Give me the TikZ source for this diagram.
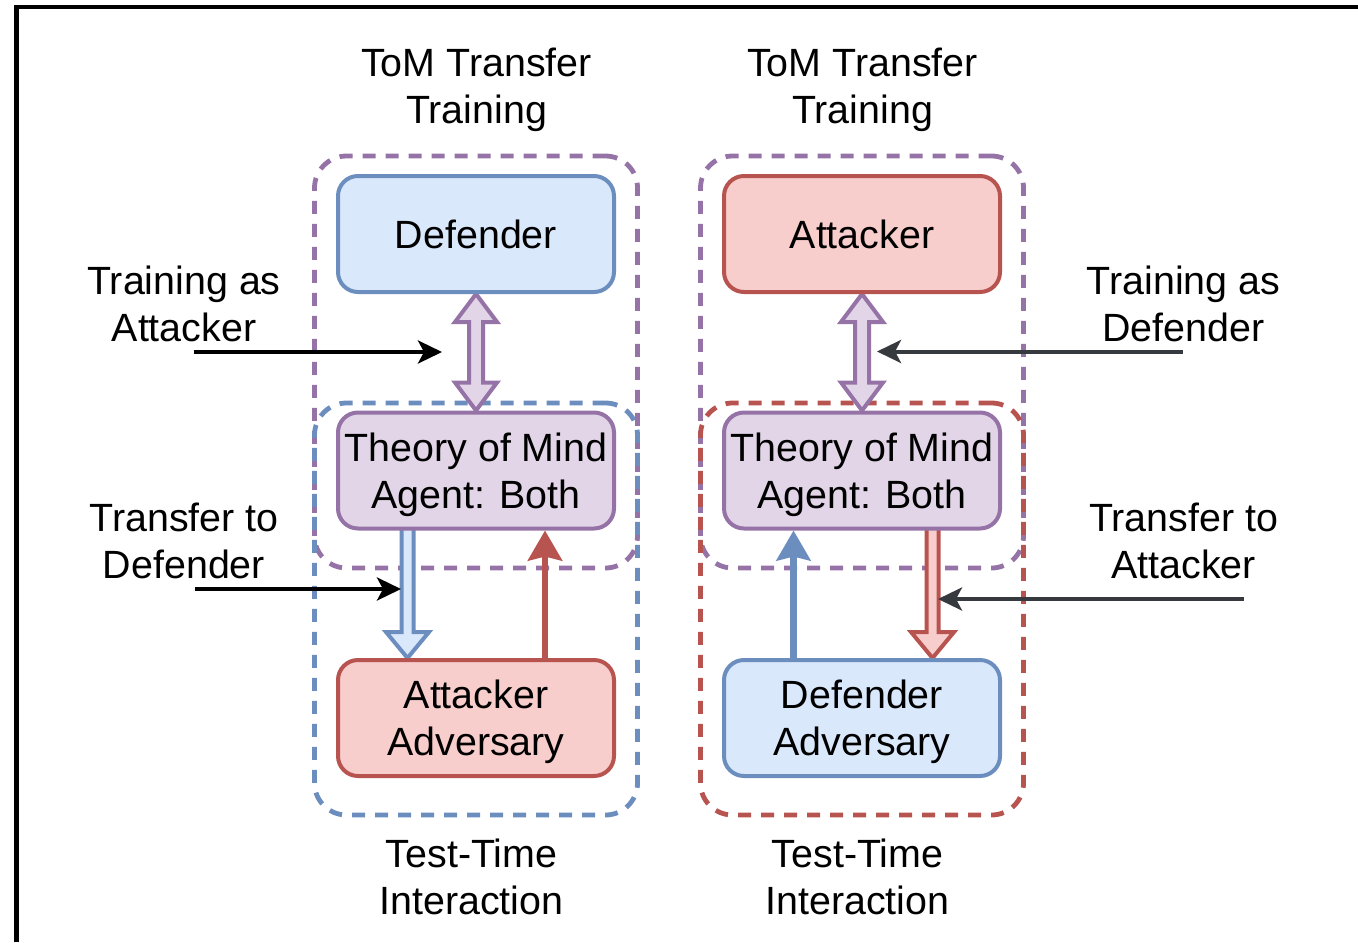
\documentclass[tikz,border=0pt]{standalone}
\usepackage{fontspec}
\setmainfont{Liberation Sans}
\usetikzlibrary{arrows.meta,calc}

\definecolor{defline}{HTML}{6C8EBF}
\definecolor{deffill}{HTML}{DAE8FC}
\definecolor{attline}{HTML}{B85450}
\definecolor{attfill}{HTML}{F8CECC}
\definecolor{tomline}{HTML}{9673A6}
\definecolor{tomfill}{HTML}{E1D5E7}
\definecolor{darkgray}{RGB}{54,57,61}

% uniform line strut so every text line is centred on its capitals
\newcommand\lnstrut{\rule[-4.6pt]{0pt}{23.2pt}}

\begin{document}
\begin{tikzpicture}[x=0.5pt,y=-0.5pt,
  txt/.style={font=\fontsize{19.7}{23.5}\selectfont, align=center, inner sep=0pt},
  agent/.style={txt, draw, rounded corners=10pt, line width=2pt,
    minimum width=138pt, minimum height=58pt},
  grp/.style={draw, line width=2.4pt, dash pattern=on 6.5pt off 5pt,
    rounded corners=16pt, minimum width=161.5pt, minimum height=206pt,
    inner sep=0pt},
  flex/.style={line width=2pt, line join=miter},
  pointer/.style={line width=2pt, -{Stealth[length=12pt,width=11.5pt,inset=3pt]}},
  flow/.style={line width=3.2pt, -{Stealth[length=15pt,width=17pt,inset=2pt]}}
]
\useasboundingbox (0,0) rectangle (1358,942);

% outer frame (top and left edges)
\draw[line width=2.25pt, line join=miter] (16.25,942) -- (16.25,7) -- (1358,7);

% dashed groupings
\node[grp, draw=tomline] (grpTrainL) at (476,362) {};
\node[grp, draw=defline] (grpTestL) at (476,609) {};
\node[grp, draw=tomline] (grpTrainR) at (862,362) {};
\node[grp, draw=attline] (grpTestR) at (862,609) {};

% group titles
\node[txt] (titleL) at (476.5,86) {\lnstrut ToM Transfer\\\lnstrut Training};
\node[txt] (titleR) at (862.5,86) {\lnstrut ToM Transfer\\\lnstrut Training};
\node[txt] (testL) at (471.5,876.5) {\lnstrut Test-Time\\\lnstrut Interaction};
\node[txt] (testR) at (857.5,876.5) {\lnstrut Test-Time\\\lnstrut Interaction};

% side labels
\node[txt] (labTA) at (184,303.6) {\lnstrut Training as\\\lnstrut Attacker};
\node[txt] (labXD) at (184,540.5) {\lnstrut Transfer to\\\lnstrut Defender};
\node[txt] (labTD) at (1183.5,303.6) {\lnstrut Training as\\\lnstrut Defender};
\node[txt] (labXA) at (1183.5,541) {\lnstrut Transfer to\\\lnstrut Attacker};

% agent positions
\path (476,234) coordinate (pDefL) (476,470.5) coordinate (pTomL) (476,718) coordinate (pAttL)
      (862,234) coordinate (pAttR) (862,470.5) coordinate (pTomR) (862,718) coordinate (pDefR);

% invisible copies to get anchors for the block arrows
\node[agent, draw=none] (defL) at (pDefL) {};
\node[agent, draw=none] (tomL) at (pTomL) {};
\node[agent, draw=none] (attL) at (pAttL) {};
\node[agent, draw=none] (attR) at (pAttR) {};
\node[agent, draw=none] (tomR) at (pTomR) {};
\node[agent, draw=none] (defR) at (pDefR) {};

% double block arrows between trainee and ToM agent
\foreach \up/\dn in {defL/tomL, attR/tomR}{
  \coordinate (t) at (\up.south);
  \coordinate (b) at (\dn.north);
  \filldraw[flex, draw=tomline, fill=tomfill]
    (t) -- ($(t)+(21,28)$) -- ($(t)+(7,28)$) -- ($(b)+(7,-28)$) -- ($(b)+(21,-28)$)
    -- (b) -- ($(b)+(-21,-28)$) -- ($(b)+(-7,-28)$) -- ($(t)+(-7,28)$)
    -- ($(t)+(-21,28)$) -- cycle;
}

% transfer block arrows from ToM agent to adversary
\coordinate (sL) at ($(tomL.south)+(-68.5,-4)$);
\coordinate (pL) at ($(attL.north)+(-68.5,0)$);
\filldraw[flex, draw=defline, fill=deffill]
  ($(sL)+(-6,0)$) -- ($(pL)+(-6,-26)$) -- ($(pL)+(-21.5,-26)$) -- (pL)
  -- ($(pL)+(21.5,-26)$) -- ($(pL)+(6,-26)$) -- ($(sL)+(6,0)$) -- cycle;
\coordinate (sR) at ($(tomR.south)+(70.5,-4)$);
\coordinate (pR) at ($(defR.north)+(70.5,0)$);
\filldraw[flex, draw=attline, fill=attfill]
  ($(sR)+(-6,0)$) -- ($(pR)+(-6,-26)$) -- ($(pR)+(-21.5,-26)$) -- (pR)
  -- ($(pR)+(21.5,-26)$) -- ($(pR)+(6,-26)$) -- ($(sR)+(6,0)$) -- cycle;

% agent boxes
\node[agent, draw=defline, fill=deffill] (defLbox) at (pDefL) {\lnstrut Defender};
\node[agent, draw=tomline, fill=tomfill] (tomLbox) at (pTomL) {\lnstrut Theory of Mind\\\lnstrut Agent: Both};
\node[agent, draw=attline, fill=attfill] (attLbox) at (pAttL) {\lnstrut Attacker\\\lnstrut Adversary};
\node[agent, draw=attline, fill=attfill] (attRbox) at (pAttR) {\lnstrut Attacker};
\node[agent, draw=tomline, fill=tomfill] (tomRbox) at (pTomR) {\lnstrut Theory of Mind\\\lnstrut Agent: Both};
\node[agent, draw=defline, fill=deffill] (defRbox) at (pDefR) {\lnstrut Defender\\\lnstrut Adversary};

% adversary feedback arrows
\draw[flow, attline] ($(attLbox.north)+(69,0)$) -- ($(tomLbox.south)+(69,0)$);
\draw[flow, defline] ($(defRbox.north)+(-68.5,0)$) -- ($(tomRbox.south)+(-68.5,0)$);

% label pointers
\coordinate (qTA) at (194,352);   \coordinate (hTA) at (442,352);
\coordinate (qXD) at (195,589);   \coordinate (hXD) at (401,589);
\coordinate (qTD) at (1183,351.5); \coordinate (hTD) at (877,351.5);
\coordinate (qXA) at (1244,599);  \coordinate (hXA) at (938,599);
\draw[pointer, black] (qTA) -- (hTA);
\draw[pointer, black] (qXD) -- (hXD);
\draw[pointer, darkgray] (qTD) -- (hTD);
\draw[pointer, darkgray] (qXA) -- (hXA);
\end{tikzpicture}
\end{document}
